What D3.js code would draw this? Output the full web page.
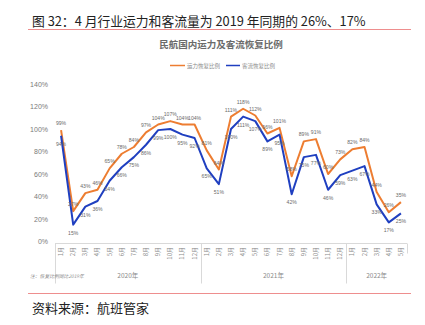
<!DOCTYPE html>
<html><head><meta charset="utf-8">
<script src="https://cdn.jsdelivr.net/npm/d3@7"></script>
<style>
html,body{margin:0;padding:0;background:#fff;}
svg{display:block;}
text{font-family:"Liberation Sans","Noto Sans CJK SC",sans-serif;}
.cjk{font-family:"Noto Sans CJK SC","Liberation Sans",sans-serif;}
</style></head>
<body>
<script>
const months = ["1月","2月","3月","4月","5月","6月","7月","8月","9月","10月","11月","12月",
                "1月","2月","3月","4月","5月","6月","7月","8月","9月","10月","11月","12月",
                "1月","2月","3月","4月","5月"];
const years = ["2020年","2021年","2022年"];
const yearCounts = [12,12,5];
const capacity = [99,27,43,46,65,78,84,97,104,107,104,104,
                  81,64,111,118,112,96,101,58,89,91,60,73,
                  82,84,44,26,35];
const passenger = [94,15,31,36,54,66,75,86,99,100,95,92,
                   65,51,100,111,107,89,95,42,75,77,46,59,
                   63,67,33,17,25];
const yTicks = [0,20,40,60,80,100,120,140];
const seriesNames = ["运力恢复比例","客流恢复比例"];
const colors = ["#ED7D31","#1F3FC0"];

const W=425,H=325;
const svg=d3.select("body").append("svg").attr("width",W).attr("height",H);

// header
svg.append("text").attr("class","cjk").attr("x",32).attr("y",26).attr("font-size",12.8).attr("fill","#222")
  .text("图 32：4 月行业运力和客流量为 2019 年同期的 26%、17%");
svg.append("line").attr("x1",28).attr("x2",411).attr("y1",29.5).attr("y2",29.5).attr("stroke","#EE8E8E").attr("stroke-width",1);
svg.append("text").attr("class","cjk").attr("x",221).attr("y",48).attr("text-anchor","middle")
  .attr("font-size",9.5).attr("font-weight","bold").attr("fill","#6b6b6b").text("民航国内运力及客流恢复比例");

// legend
const leg=[{x:170,w:15},{x:226,w:14}];
seriesNames.forEach((n,i)=>{
  svg.append("line").attr("x1",leg[i].x).attr("x2",leg[i].x+leg[i].w).attr("y1",65.5).attr("y2",65.5)
    .attr("stroke",colors[i]).attr("stroke-width",1.5);
  svg.append("text").attr("class","cjk").attr("x",leg[i].x+leg[i].w+2).attr("y",67.5)
    .attr("font-size",5.5).attr("fill","#8a8a8a").text(n);
});

// scales
const x=d3.scaleBand().domain(d3.range(months.length)).range([55,407]);
const y=d3.scaleLinear().domain([0,140]).range([241.5,84]);
const cx=i=>x(i)+x.bandwidth()/2;

// y axis labels
const yAxis=d3.axisLeft(y).tickValues(yTicks).tickFormat(d=>d+"%").tickSize(0).tickPadding(0);
const ya=svg.append("g").attr("transform","translate(48,0)").call(yAxis);
ya.select(".domain").remove();
ya.selectAll("text").attr("font-size",7).attr("fill","#7a7a7a").attr("font-family","Liberation Sans");

// x axis frame
const axY=243.5;
svg.append("line").attr("x1",55).attr("x2",407).attr("y1",axY).attr("y2",axY).attr("stroke","#d9d9d9").attr("stroke-width",1);
let start=0;
const bounds=[0];
yearCounts.forEach(c=>{start+=c;bounds.push(start);});
bounds.forEach((b,i)=>{
  const xx = b<months.length ? x(b) : 407;
  const len = (i===bounds.length-1)? 10 : 40;
  svg.append("line").attr("x1",Math.round(xx)+0.5).attr("x2",Math.round(xx)+0.5).attr("y1",axY).attr("y2",axY+len)
    .attr("stroke","#d9d9d9").attr("stroke-width",1);
});
// month labels
svg.append("g").selectAll("text").data(months).join("text").attr("class","cjk")
  .attr("transform",(d,i)=>`translate(${cx(i)+2},247) rotate(-90)`)
  .attr("text-anchor","end").attr("font-size",6).attr("fill","#8a8a8a").text(d=>d);
// year labels
years.forEach((yr,i)=>{
  const a=x(bounds[i]);
  const b= bounds[i+1]<months.length ? x(bounds[i+1]) : 407;
  svg.append("text").attr("class","cjk").attr("x",(a+b)/2).attr("y",278).attr("text-anchor","middle")
    .attr("font-size",6.5).attr("fill","#8a8a8a").text(yr);
});
svg.append("text").attr("class","cjk").attr("x",30).attr("y",278).attr("font-size",4.8).attr("font-style","italic")
  .attr("fill","#8a8a8a").text("注：恢复比例同比2019年");

// lines
const line=d3.line().x((d,i)=>cx(i)).y(d=>y(d));
[capacity,passenger].forEach((s,k)=>{
  svg.append("path").datum(s).attr("d",line).attr("fill","none").attr("stroke",colors[k]).attr("stroke-width",2).attr("stroke-linejoin","round");
});
// labels
svg.append("g").selectAll("text").data(capacity).join("text")
  .attr("x",(d,i)=>cx(i)).attr("y",d=>y(d)-5).attr("text-anchor","middle")
  .attr("font-size",5.1).attr("fill","#6a6a6a").text(d=>d+"%");
svg.append("g").selectAll("text").data(passenger).join("text")
  .attr("x",(d,i)=>cx(i)).attr("y",d=>y(d)+10).attr("text-anchor","middle")
  .attr("font-size",5.1).attr("fill","#6a6a6a").text(d=>d+"%");

// footer
svg.append("line").attr("x1",28).attr("x2",411).attr("y1",293.5).attr("y2",293.5).attr("stroke","#EE8E8E").attr("stroke-width",1);
svg.append("text").attr("class","cjk").attr("x",32).attr("y",313).attr("font-size",13).attr("fill","#222").text("资料来源：航班管家");
</script>
</body></html>
